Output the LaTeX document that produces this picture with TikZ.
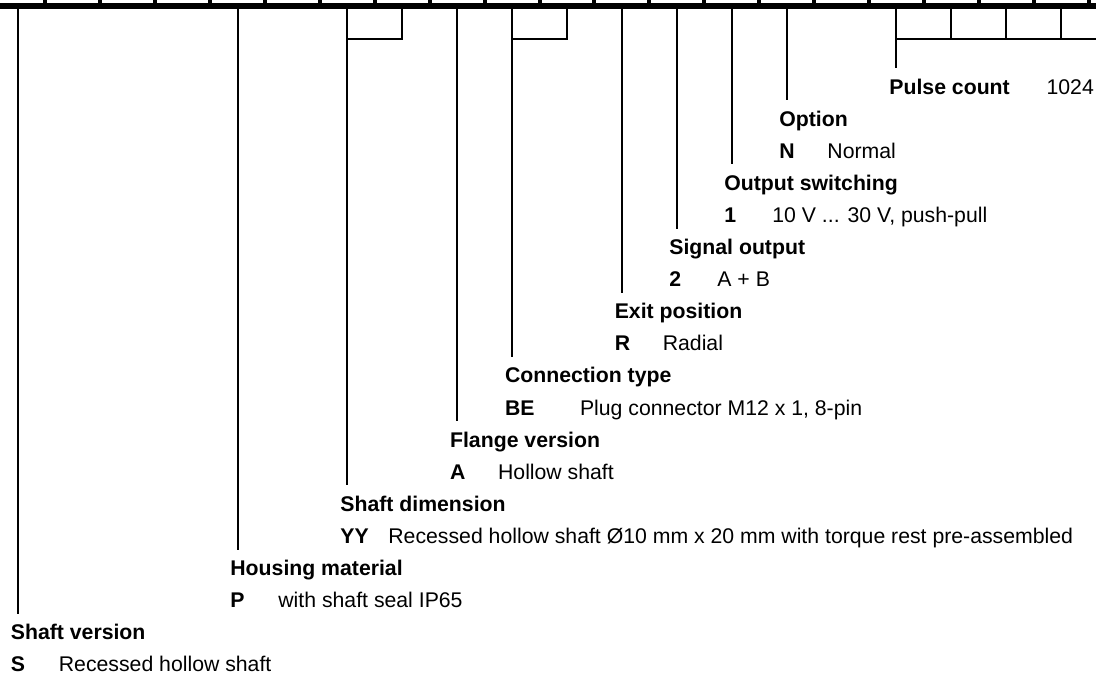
\documentclass[tikz,border=0pt]{standalone}
\usepackage{fontspec}
\setmainfont{Liberation Sans}
\usetikzlibrary{positioning}

\begin{document}
\begin{tikzpicture}[x=0.5pt, y=-0.5pt, font=\fontsize{10.62}{12.7}\selectfont]
  \tikzset{
    head/.style={
      inner sep=0pt,
      outer ysep=5pt,
      text height=8pt,
      anchor=base west,
      font=\fontsize{10.62}{12.7}\selectfont\bfseries},
    code/.style={
      inner sep=0pt,
      font=\fontsize{10.62}{12.7}\selectfont\bfseries},
    desc/.style={
      inner sep=0pt},
    lead/.style={
      line width=1pt}}

  \useasboundingbox (0,0) rectangle (1096,675);

  % code bar with ticks
  \fill (0,3) rectangle (1096,8.5);
  \foreach \k in {0,...,19}
    \fill (43.45+54.9*\k,0) rectangle ++(4,4);

  \foreach \k in {0,...,19}
    \coordinate (t\k) at (18+54.9*\k,8);
  \foreach \k in {6,7,9,10,16,17,18,19}
    \coordinate (b\k) at (t\k |- 0,39);
  \coordinate (pcend) at (1096,39);

  \node[head] (hPC) at (889,94) {Pulse count};
  \node[desc] (vPC) [base right=18pt of hPC] {1024};

  \node[head] (hOP) at (779,126.1) {Option};
  \node[code] (cOP) [below=16.05pt of hOP.base west, anchor=base west] {N};
  \node[desc] (dOP) [base right=24pt of cOP.base west] {Normal};

  \node[head] (hOS) at (724,190.3) {Output switching};
  \node[code] (cOS) [below=16.05pt of hOS.base west, anchor=base west] {1};
  \node[desc] (dOS) [base right=24pt of cOS.base west] {10 V ... 30 V, push-pull};

  \node[head] (hSO) at (669,254.5) {Signal output};
  \node[code] (cSO) [below=16.05pt of hSO.base west, anchor=base west] {2};
  \node[desc] (dSO) [base right=24pt of cSO.base west] {A + B};

  \node[head] (hEP) at (614.4,318.7) {Exit position};
  \node[code] (cEP) [below=16.05pt of hEP.base west, anchor=base west] {R};
  \node[desc] (dEP) [base right=24pt of cEP.base west] {Radial};

  \node[head] (hCT) at (504.6,382.9) {Connection type};
  \node[code] (cCT) [below=16.05pt of hCT.base west, anchor=base west] {BE};
  \node[desc] (dCT) [base right=37.5pt of cCT.base west] {Plug connector M12 x 1, 8-pin};

  \node[head] (hFV) at (449.7,447) {Flange version};
  \node[code] (cFV) [below=16.05pt of hFV.base west, anchor=base west] {A};
  \node[desc] (dFV) [base right=24pt of cFV.base west] {Hollow shaft};

  \node[head] (hSD) at (340,511.3) {Shaft dimension};
  \node[code] (cSD) [below=16.05pt of hSD.base west, anchor=base west] {YY};
  \node[desc] (dSD) [base right=24pt of cSD.base west] {Recessed hollow shaft Ø10 mm x 20 mm with torque rest pre-assembled};

  \node[head] (hHM) at (230,575.5) {Housing material};
  \node[code] (cHM) [below=16.05pt of hHM.base west, anchor=base west] {P};
  \node[desc] (dHM) [base right=24pt of cHM.base west] {with shaft seal IP65};

  \node[head] (hSV) at (10.5,639.7) {Shaft version};
  \node[code] (cSV) [below=16.05pt of hSV.base west, anchor=base west] {S};
  \node[desc] (dSV) [base right=24pt of cSV.base west] {Recessed hollow shaft};

  % leads from the bar
  \draw[lead] (t0) -- (t0 |- hSV.north);
  \draw[lead] (t4) -- (t4 |- hHM.north);
  \draw[lead] (t6) -- (t6 |- hSD.north);
  \draw[lead] (t8) -- (t8 |- hFV.north);
  \draw[lead] (t9) -- (t9 |- hCT.north);
  \draw[lead] (t11) -- (t11 |- hEP.north);
  \draw[lead] (t12) -- (t12 |- hSO.north);
  \draw[lead] (t13) -- (t13 |- hOS.north);
  \draw[lead] (t14) -- (t14 |- hOP.north);
  \draw[lead] (t16) -- (t16 |- hPC.north);

  % brackets
  \draw[lead] (t7) -- (b7) -- (b6);
  \draw[lead] (t10) -- (b10) -- (b9);
  \draw[lead] (t17) -- (b17);
  \draw[lead] (t18) -- (b18);
  \draw[lead] (t19) -- (b19);
  \draw[lead] (b16) -- (pcend);

\end{tikzpicture}
\end{document}
